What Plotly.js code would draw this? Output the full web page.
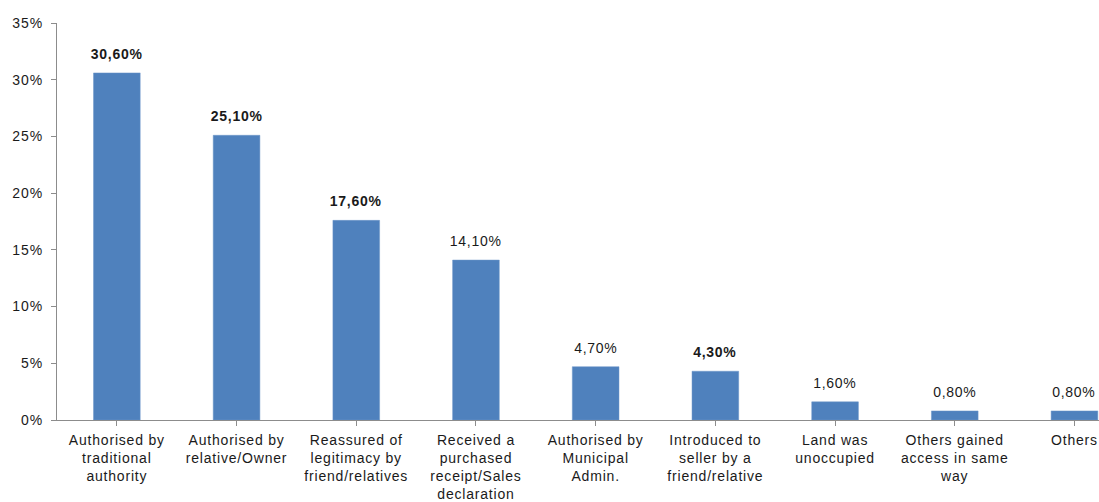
<!DOCTYPE html>
<html>
<head>
<meta charset="utf-8">
<script src="https://cdn.plot.ly/plotly-3.0.1.min.js"></script>
<style>
html,body{margin:0;padding:0;background:#fff;}
#chart{width:1099px;height:502px;}
#chart .xtick text{letter-spacing:0.8px;}
#chart .ytick text{letter-spacing:1px;}
#chart .annotation-text{letter-spacing:0.75px;}
</style>
</head>
<body>
<div id="chart"></div>
<script>
const categories = [
  "Authorised by<br>traditional<br>authority",
  "Authorised by<br>relative/Owner",
  "Reassured of<br>legitimacy by<br>friend/relatives",
  "Received a<br>purchased<br>receipt/Sales<br>declaration",
  "Authorised by<br>Municipal<br>Admin.",
  "Introduced to<br>seller by a<br>friend/relative",
  "Land was<br>unoccupied",
  "Others gained<br>access in same<br>way",
  "Others"
];
const values = [30.6, 25.1, 17.6, 14.1, 4.7, 4.3, 1.6, 0.8, 0.8];
const valueLabels = ["30,60%", "25,10%", "17,60%", "14,10%", "4,70%", "4,30%", "1,60%", "0,80%", "0,80%"];
const boldLabel = [true, true, true, false, false, true, false, false, false];
const yTickVals = [0, 5, 10, 15, 20, 25, 30, 35];
const yTickText = ["0%", "5%", "10%", "15%", "20%", "25%", "30%", "35%"];

const font = "Liberation Sans, Arial, sans-serif";
const idx = categories.map((_, i) => i);

const trace = {
  type: "bar",
  x: idx,
  y: values,
  width: 0.39,
  marker: {color: "#4F81BD", line: {color: "#6d96c8", width: 0.5}},
  hoverinfo: "skip"
};

const annotations = values.map((v, i) => ({
  x: i, y: v, xref: "x", yref: "y",
  text: boldLabel[i] ? "<b>" + valueLabels[i] + "</b>" : valueLabels[i],
  showarrow: false, yanchor: "bottom", yshift: 9,
  font: {family: font, size: 14, color: "#1a1a1a"}
}));

const layout = {
  width: 1099, height: 502,
  margin: {l: 57, r: 0, t: 23, b: 82},
  paper_bgcolor: "#fff", plot_bgcolor: "#fff",
  showlegend: false,
  xaxis: {
    tickmode: "array", tickvals: idx, ticktext: categories,
    range: [-0.5, 8.205],
    tickson: "boundaries",
    showline: true, linecolor: "#8c8c8c", linewidth: 1,
    ticks: "outside", ticklen: 5, tickcolor: "#8c8c8c",
    showgrid: false, zeroline: false,
    tickangle: 0,
    ticklabelstandoff: 2,
    tickfont: {family: font, size: 14, color: "#1a1a1a"}
  },
  yaxis: {
    range: [0, 35],
    tickmode: "array", tickvals: yTickVals, ticktext: yTickText,
    showline: true, linecolor: "#8c8c8c", linewidth: 1,
    ticks: "outside", ticklen: 5, tickcolor: "#8c8c8c",
    showgrid: false, zeroline: false,
    ticklabelstandoff: 5,
    tickfont: {family: font, size: 14, color: "#1a1a1a"}
  },
  annotations: annotations
};

Plotly.newPlot("chart", [trace], layout, {displayModeBar: false, staticPlot: true});
</script>
</body>
</html>
